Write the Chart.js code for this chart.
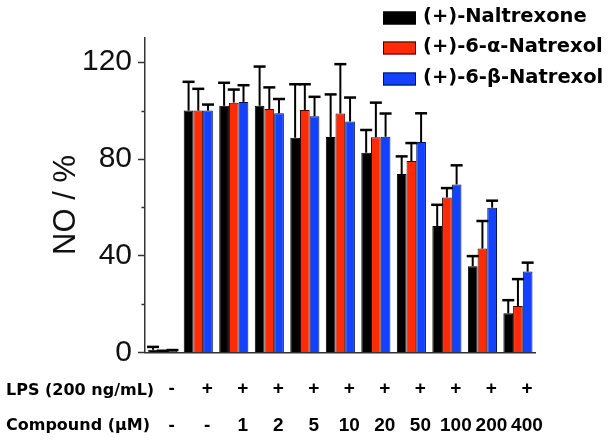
<!DOCTYPE html>
<html><head><meta charset="utf-8">
<script src="https://cdn.jsdelivr.net/npm/chart.js@4"></script>
<style>html,body{margin:0;padding:0;background:#fff}#wrap{width:610px;height:443px;position:relative}</style>
</head><body><div id="wrap"><canvas id="c" width="610" height="443"></canvas></div>
<script>
// ---- data ----
const lpsRow = ['-', '+', '+', '+', '+', '+', '+', '+', '+', '+', '+'];
const compoundRow = ['-', '-', '1', '2', '5', '10', '20', '50', '100', '200', '400'];
const rowHeaders = ['LPS (200 ng/mL)', 'Compound (μM)'];
const seriesNames = ['(+)-Naltrexone', '(+)-6-α-Natrexol', '(+)-6-β-Natrexol'];
const naltrexone    = [1.2, 100, 102, 102, 88.8, 89.1, 82.6, 73.8, 52.3, 35.7, 16.3];
const naltrexoneErr = [1.2, 11.9, 9.5, 16.2, 22.1, 17.6, 9.4, 7.3, 8.8, 4.2, 5.4];
const alphaNatrexol    = [0.5, 100, 103.3, 100.7, 100.3, 98.8, 89.0, 79.2, 64.1, 43.0, 19.3];
const alphaNatrexolErr = [0.3, 9.0, 5.4, 8.9, 10.6, 20.4, 14.3, 7.4, 3.9, 11.4, 11.1];
const betaNatrexol    = [0.8, 100, 103.6, 98.9, 97.7, 95.5, 89.2, 87.0, 69.5, 59.9, 33.5];
const betaNatrexolErr = [0.3, 2.5, 6.9, 5.9, 8.0, 9.9, 9.6, 11.9, 7.9, 2.9, 3.7];
const yMajorTicks = [0, 40, 80, 120];
const yMinorTicks = [20, 60, 100];
const yTitle = 'NO / %';

const seriesColors = ['#000000', '#ff2b06', '#1242ff'];
const seriesBorders = ['#000000', '#3a0800', '#001060'];
const errorSets = [naltrexoneErr, alphaNatrexolErr, betaNatrexolErr];
const axisColor = '#333333';

const TICK_PAD = 16.8, TICK_LH = 37.7;

const decor = {
  id: 'decor',
  afterDatasetsDraw(chart) {
    const ctx = chart.ctx, y = chart.scales.y;
    ctx.save();
    ctx.strokeStyle = '#000';
    chart.data.datasets.forEach((ds, di) => {
      const meta = chart.getDatasetMeta(di);
      meta.data.forEach((el, i) => {
        const top = y.getPixelForValue(ds.data[i] + errorSets[di][i]);
        ctx.lineWidth = 2;
        ctx.beginPath(); ctx.moveTo(el.x, el.y); ctx.lineTo(el.x, top); ctx.stroke();
        ctx.lineWidth = 2.5;
        ctx.beginPath(); ctx.moveTo(el.x - 6, top); ctx.lineTo(el.x + 6, top); ctx.stroke();
      });
    });
    ctx.restore();
  },
  afterDraw(chart) {
    const ctx = chart.ctx, y = chart.scales.y, x = chart.scales.x;
    ctx.save();
    // minor ticks
    ctx.strokeStyle = axisColor; ctx.lineWidth = 1.5;
    yMinorTicks.forEach(v => {
      const py = Math.round(y.getPixelForValue(v)) + 0.5;
      ctx.beginPath(); ctx.moveTo(y.right - 3.5, py); ctx.lineTo(y.right, py); ctx.stroke();
    });
    // y title
    ctx.fillStyle = '#111';
    ctx.font = '31px "Liberation Sans", Arial, sans-serif';
    ctx.textAlign = 'center'; ctx.textBaseline = 'middle';
    ctx.translate(66, 205); ctx.rotate(-Math.PI / 2);
    ctx.fillText(yTitle, 0, 0);
    ctx.setTransform(1, 0, 0, 1, 0, 0);
    // row headers
    ctx.fillStyle = '#000';
    ctx.font = 'bold 16px "DejaVu Sans", sans-serif';
    ctx.textAlign = 'left'; ctx.textBaseline = 'middle';
    ctx.fillText(rowHeaders[0], 6, x.top + 38);
    ctx.fillText(rowHeaders[1], 6, x.top + 73);
    // legend
    const rows = [18, 48, 79];
    ctx.font = 'bold 19.5px "DejaVu Sans", sans-serif';
    seriesNames.forEach((n, i) => {
      ctx.fillStyle = seriesColors[i];
      ctx.fillRect(383, rows[i] - 6.5, 33, 13);
      ctx.strokeStyle = seriesBorders[i]; ctx.lineWidth = 1;
      ctx.strokeRect(383.5, rows[i] - 6, 32, 12);
      ctx.fillStyle = '#000';
      ctx.fillText(n, 423, rows[i] - 1);
    });
    ctx.restore();
  }
};

new Chart(document.getElementById('c'), {
  type: 'bar',
  data: {
    labels: lpsRow.map((v, i) => [v, compoundRow[i]]),
    datasets: [
      { label: seriesNames[0], data: naltrexone },
      { label: seriesNames[1], data: alphaNatrexol },
      { label: seriesNames[2], data: betaNatrexol }
    ].map((d, i) => Object.assign(d, {
      backgroundColor: seriesColors[i], borderColor: seriesBorders[i], borderWidth: 1,
      barPercentage: 1, categoryPercentage: 0.82
    }))
  },
  options: {
    responsive: false, animation: false, devicePixelRatio: 1,
    layout: { padding: { left: 0, top: 38, right: 74.3, bottom: 0 } },
    plugins: { legend: { display: false }, tooltip: { enabled: false } },
    scales: {
      x: {
        grid: { display: false, drawTicks: false },
        border: { display: true, color: axisColor, width: 1.5 },
        ticks: {
          autoSkip: false, maxRotation: 0, padding: TICK_PAD, labelOffset: 9, color: '#000',
          font: { family: '"Liberation Sans", Arial, sans-serif', weight: 'bold', size: 19, lineHeight: TICK_LH + 'px' }
        },
        afterFit: s => { s.height = 90.3; }
      },
      y: {
        min: 0, max: 130,
        afterBuildTicks: s => { s.ticks = yMajorTicks.map(v => ({ value: v })); },
        grid: { drawOnChartArea: false, drawTicks: true, tickLength: 7, tickColor: axisColor, tickWidth: 1.5 },
        border: { display: true, color: axisColor, width: 1.5 },
        ticks: {
          padding: 6, color: '#111',
          font: { family: '"Liberation Sans", Arial, sans-serif', size: 30 }
        },
        afterFit: s => { s.width = 145; }
      }
    }
  },
  plugins: [decor]
});
</script>
</body></html>
